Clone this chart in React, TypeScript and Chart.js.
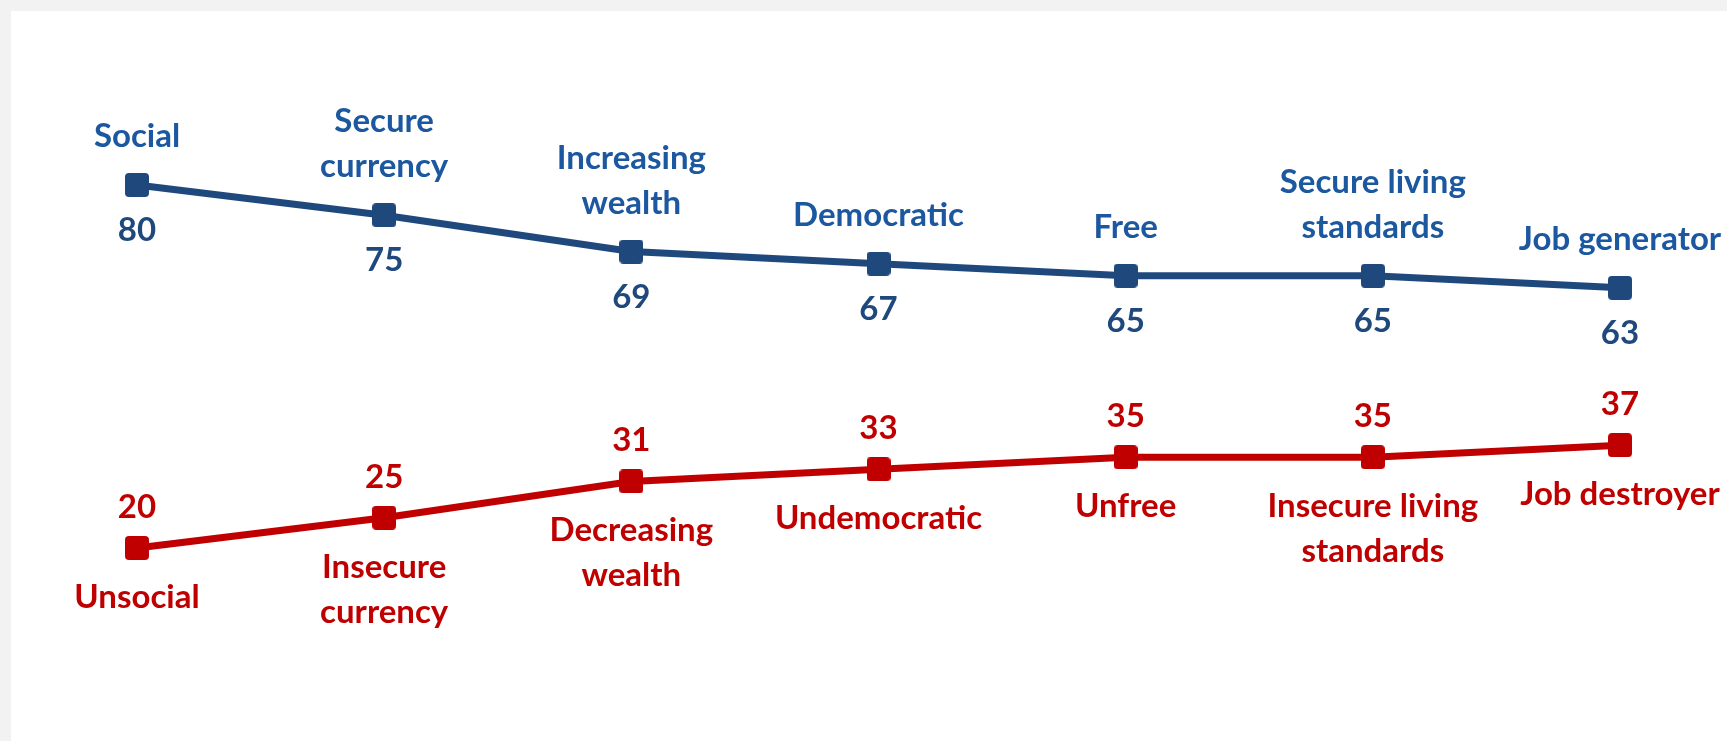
import React, { useEffect, useRef } from "react";
import { Chart, registerables } from "chart.js";

Chart.register(...registerables);

const categories = ["Social", "Currency", "Wealth", "Democracy", "Freedom", "Living standards", "Jobs"];
const positiveLabels: string[][] = [
  ["Social"],
  ["Secure", "currency"],
  ["Increasing", "wealth"],
  ["Democratic"],
  ["Free"],
  ["Secure living", "standards"],
  ["Job generator"],
];
const negativeLabels: string[][] = [
  ["Unsocial"],
  ["Insecure", "currency"],
  ["Decreasing", "wealth"],
  ["Undemocratic"],
  ["Unfree"],
  ["Insecure living", "standards"],
  ["Job destroyer"],
];
const positiveValues = [80, 75, 69, 67, 65, 65, 63];
const negativeValues = [20, 25, 31, 33, 35, 35, 37];

const BLUE_LINE = "#1F497D";
const BLUE_TEXT = "#1B58A0";
const RED = "#C00000";
const FONT = "bold 33px Lato, 'Open Sans', sans-serif";

function makeMarker(color: string) {
  const c = document.createElement("canvas");
  c.width = 24;
  c.height = 24;
  const g = c.getContext("2d")!;
  g.fillStyle = color;
  g.beginPath();
  (g as any).roundRect(0, 0, 24, 24, 4);
  g.fill();
  return c;
}

export default function App() {
  const ref = useRef<HTMLCanvasElement>(null);

  useEffect(() => {
    document.body.style.margin = "0";
    document.body.style.background = "#f2f2f2";
    let chart: Chart | null = null;
    let cancelled = false;

    const labelPlugin = {
      id: "pointLabels",
      afterDatasetsDraw(c: any) {
        const ctx = c.ctx as CanvasRenderingContext2D;
        ctx.save();
        ctx.font = FONT;
        ctx.textAlign = "center";
        ctx.textBaseline = "alphabetic";
        const lineH = 45;
        const top = c.getDatasetMeta(0).data;
        top.forEach((pt: any, i: number) => {
          const lines = positiveLabels[i];
          ctx.fillStyle = BLUE_TEXT;
          lines.forEach((ln, k) => {
            ctx.fillText(ln, pt.x, pt.y - 38 - (lines.length - 1 - k) * lineH);
          });
          ctx.fillStyle = BLUE_LINE;
          ctx.fillText(String(positiveValues[i]), pt.x, pt.y + 56);
        });
        const bottom = c.getDatasetMeta(1).data;
        bottom.forEach((pt: any, i: number) => {
          ctx.fillStyle = RED;
          ctx.fillText(String(negativeValues[i]), pt.x, pt.y - 30);
          negativeLabels[i].forEach((ln, k) => {
            ctx.fillText(ln, pt.x, pt.y + 60 + k * lineH);
          });
        });
        ctx.restore();
      },
    };

    const build = () => {
      if (cancelled || !ref.current) return;
      chart = new Chart(ref.current, {
        type: "line",
        data: {
          labels: categories,
          datasets: [
            {
              label: "Positive",
              data: positiveValues,
              borderColor: BLUE_LINE,
              backgroundColor: BLUE_LINE,
              borderWidth: 7,
              pointStyle: makeMarker(BLUE_LINE) as any,
              pointRadius: 12,
              tension: 0,
              clip: false as any,
            },
            {
              label: "Negative",
              data: negativeValues,
              borderColor: RED,
              backgroundColor: RED,
              borderWidth: 7,
              pointStyle: makeMarker(RED) as any,
              pointRadius: 12,
              tension: 0,
              clip: false as any,
            },
          ],
        },
        options: {
          responsive: false,
          animation: false,
          devicePixelRatio: 1,
          layout: { padding: { left: 126, right: 107, top: 53, bottom: 72 } },
          plugins: { legend: { display: false }, tooltip: { enabled: false } },
          scales: {
            x: { type: "category", offset: false, display: false },
            y: { min: 0, max: 100, display: false },
          },
        },
        plugins: [labelPlugin],
      });
    };

    const fontsApi = (document as any).fonts;
    if (fontsApi && fontsApi.load) {
      fontsApi.load(FONT).then(build, build);
    } else {
      build();
    }

    return () => {
      cancelled = true;
      if (chart) chart.destroy();
    };
  }, []);

  return (
    <div style={{ width: 1727, height: 741, background: "#f2f2f2", position: "relative" }}>
      <div style={{ position: "absolute", left: 11, top: 11, width: 1716, height: 730, background: "#ffffff" }}>
        <canvas ref={ref} width={1716} height={730} style={{ display: "block", width: 1716, height: 730 }} />
      </div>
    </div>
  );
}
